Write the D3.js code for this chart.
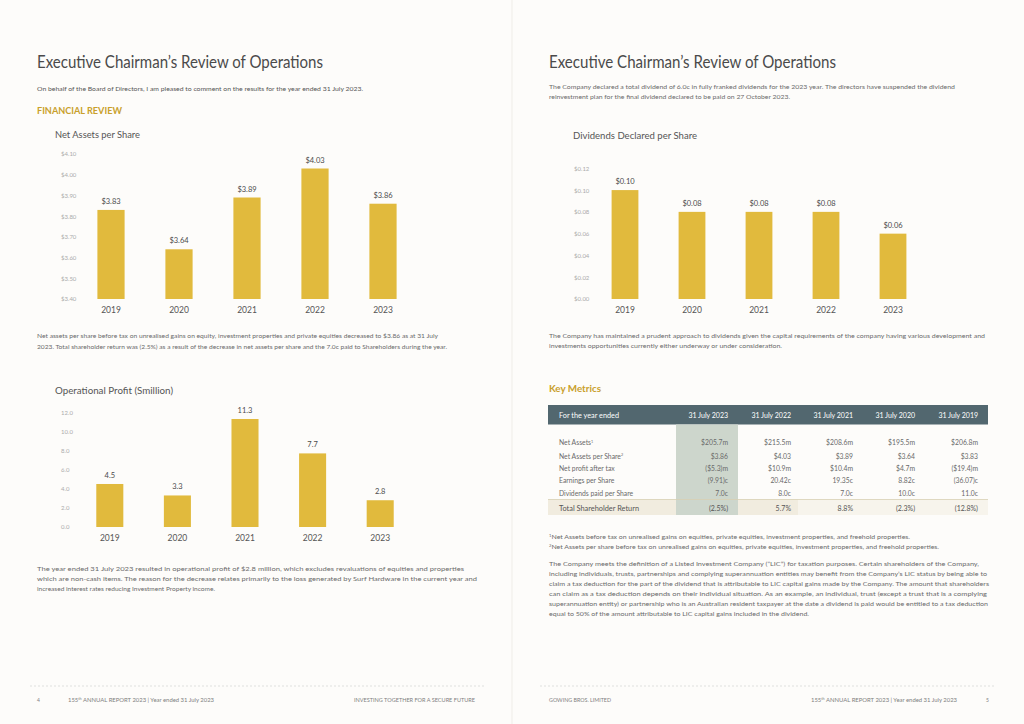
<!DOCTYPE html>
<html>
<head>
<meta charset="utf-8">
<script src="https://cdn.jsdelivr.net/npm/d3@7"></script>
<style>
  html, body { margin: 0; padding: 0; background: #fdfcfa; }
  svg { display: block; font-family: Lato, "Open Sans", sans-serif; }
</style>
</head>
<body>
<svg id="page" width="1024" height="724"></svg>
<script>
// --- data ---
const years = ["2019", "2020", "2021", "2022", "2023"];

const netAssetsPerShare = [3.83, 3.64, 3.89, 4.03, 3.86];
const netAssetsTicks = [3.4, 3.5, 3.6, 3.7, 3.8, 3.9, 4.0, 4.1];

const operationalProfit = [4.5, 3.3, 11.3, 7.7, 2.8];
const profitTicks = [0, 2, 4, 6, 8, 10, 12];

const dividendsPerShare = [0.10, 0.08, 0.08, 0.08, 0.06];
const dividendTicks = [0, 0.02, 0.04, 0.06, 0.08, 0.10, 0.12];

const tableColumns = ["31 July 2023", "31 July 2022", "31 July 2021", "31 July 2020", "31 July 2019"];
const tableRows = ["Net Assets", "Net Assets per Share", "Net profit after tax", "Earnings per Share", "Dividends paid per Share"];
const tableRowNotes = ["1", "2", "", "", ""];
const netAssetsRow = ["$205.7m", "$215.5m", "$208.6m", "$195.5m", "$206.8m"];
const navPerShareRow = ["$3.86", "$4.03", "$3.89", "$3.64", "$3.83"];
const netProfitRow = ["($5.3)m", "$10.9m", "$10.4m", "$4.7m", "($19.4)m"];
const epsRow = ["(9.91)c", "20.42c", "19.35c", "8.82c", "(36.07)c"];
const dividendsPaidRow = ["7.0c", "8.0c", "7.0c", "10.0c", "11.0c"];
const tsrRow = ["(2.5%)", "5.7%", "8.8%", "(2.3%)", "(12.8%)"];

// --- setup ---
const svg = d3.select("#page");
const barColor = "#e1ba3d";
const gold = "#c9a02c";

svg.append("rect").attr("width", 1024).attr("height", 724).attr("fill", "#fdfcfa");
svg.append("line").attr("x1", 512).attr("x2", 512).attr("y1", 0).attr("y2", 724)
    .attr("stroke", "#efede8").attr("stroke-width", 1);

// text helper
function txt(s, x, y, o = {}) {
    const t = svg.append("text")
        .attr("x", x).attr("y", y)
        .attr("font-size", o.size || 6)
        .attr("fill", o.color || "#6a6a6a")
        .attr("text-anchor", o.anchor || "start")
        .attr("font-weight", o.weight || 400);
    if (o.sup) {
        t.append("tspan").attr("font-size", (o.size || 6) * 0.6).attr("dy", -2).text(o.sup);
        t.append("tspan").attr("dy", 2).text(s);
    } else {
        t.text(s);
    }
    if (o.w) t.attr("textLength", o.w).attr("lengthAdjust", "spacingAndGlyphs");
    return t;
}

// --- bar chart ---
function barChart(cfg) {
    const x = d3.scaleBand().domain(years).range(cfg.xr).paddingInner(0.6).paddingOuter(0.3);
    const y = d3.scaleLinear().domain(cfg.domain).range(cfg.yr);
    const g = svg.append("g");

    const ax = g.append("g")
        .attr("transform", `translate(${cfg.tickX},0)`)
        .call(d3.axisLeft(y).tickValues(cfg.ticks).tickFormat(cfg.tickFmt).tickSize(0).tickPadding(0));
    ax.select(".domain").remove();
    ax.attr("font-family", null).attr("font-size", 6);
    ax.selectAll("text").attr("x", 0).attr("text-anchor", "start").attr("fill", "#ababab");

    g.selectAll("rect.bar")
        .data(cfg.values)
        .join("rect")
        .attr("class", "bar")
        .attr("x", (d, i) => x(years[i]))
        .attr("y", d => y(d))
        .attr("width", x.bandwidth())
        .attr("height", d => y(cfg.domain[0]) - y(d))
        .attr("fill", barColor);

    g.selectAll("text.val")
        .data(cfg.values)
        .join("text")
        .attr("class", "val")
        .attr("x", (d, i) => x(years[i]) + x.bandwidth() / 2)
        .attr("y", d => y(d) - 6)
        .attr("text-anchor", "middle")
        .attr("font-size", 7.5)
        .attr("fill", "#4a4a4a")
        .text(cfg.valFmt);

    const xa = g.append("g")
        .attr("transform", `translate(0,${cfg.yearY})`)
        .call(d3.axisBottom(x).tickSize(0));
    xa.select(".domain").remove();
    xa.attr("font-family", null).attr("font-size", 8.5);
    xa.selectAll("text").attr("y", 0).attr("dy", 0).attr("fill", "#555");
}

// --- left page ---
txt("Executive Chairman\u2019s Review of Operations", 37, 68, { size: 17, color: "#4a4a4a", w: 286 });
txt("On behalf of the Board of Directors, I am pleased to comment on the results for the year ended 31 July 2023.", 37, 91, { size: 5.8, w: 326, color: "#555" });
txt("FINANCIAL REVIEW", 37, 114, { size: 9, color: gold, weight: "bold", w: 85 });
txt("Net Assets per Share", 55, 138, { size: 9, color: "#555", w: 85 });

barChart({
    values: netAssetsPerShare, ticks: netAssetsTicks, domain: [3.4, 4.1],
    xr: [77, 417], yr: [299, 154], tickX: 61, yearY: 313,
    tickFmt: d => "$" + d.toFixed(2), valFmt: d => "$" + d.toFixed(2)
});

txt("Net assets per share before tax on unrealised gains on equity, investment properties and private equities decreased to $3.86 as at 31 July", 37, 338, { size: 5.6, w: 401 });
txt("2023. Total shareholder return was (2.5%) as a result of the decrease in net assets per share and the 7.0c paid to Shareholders during the year.", 37, 349, { size: 5.6, w: 410 });

txt("Operational Profit (Smillion)", 55, 394, { size: 9, color: "#555", w: 118 });

barChart({
    values: operationalProfit, ticks: profitTicks, domain: [0, 12],
    xr: [76, 414], yr: [527, 412.3], tickX: 61, yearY: 541,
    tickFmt: d => d.toFixed(1), valFmt: d => d.toFixed(1)
});

txt("The year ended 31 July 2023 resulted in operational profit of $2.8 million, which excludes revaluations of equities and properties", 37, 571, { size: 5.8, w: 427 });
txt("which are non-cash items. The reason for the decrease relates primarily to the loss generated by Surf Hardware in the current year and", 37, 581, { size: 5.8, w: 440 });
txt("increased interest rates reducing Investment Property income.", 37, 591, { size: 5.8, w: 178 });

// --- right page ---
txt("Executive Chairman\u2019s Review of Operations", 549, 68, { size: 17, color: "#4a4a4a", w: 287 });
txt("The Company declared a total dividend of 6.0c in fully franked dividends for the 2023 year.  The directors have suspended the dividend", 549, 89, { size: 5.8, w: 406 });
txt("reinvestment plan for the final dividend declared to be paid on 27 October 2023.", 549, 99, { size: 5.8, w: 241 });
txt("Dividends Declared per Share", 573, 139, { size: 9, color: "#555", w: 124 });

barChart({
    values: dividendsPerShare, ticks: dividendTicks, domain: [0, 0.12],
    xr: [591.5, 926.5], yr: [299, 168.3], tickX: 574, yearY: 313,
    tickFmt: d => "$" + d.toFixed(2), valFmt: d => "$" + d.toFixed(2)
});

txt("The Company has maintained a prudent approach to dividends given the capital requirements of the company having various development and", 549, 338, { size: 5.8, w: 436 });
txt("investments opportunities currently either underway or under consideration.", 549, 348, { size: 5.8, w: 233 });

txt("Key Metrics", 549, 392, { size: 9, color: gold, weight: "bold", w: 52 });

// table
const colRight = [728, 791, 853, 915, 978];
const rowY = [445, 458.5, 470.5, 483, 495.5];
const tableData = [netAssetsRow, navPerShareRow, netProfitRow, epsRow, dividendsPaidRow];

svg.append("rect").attr("x", 548).attr("y", 405).attr("width", 440).attr("height", 19.5).attr("fill", "#52676f");
svg.append("rect").attr("x", 548).attr("y", 499.5).attr("width", 440).attr("height", 15.5).attr("fill", "#f7f4ec");
svg.append("rect").attr("x", 548).attr("y", 499.5).attr("width", 250).attr("height", 15.5).attr("fill", "#f1ecdf");
svg.append("rect").attr("x", 676).attr("y", 424.5).attr("width", 62).attr("height", 90.5).attr("fill", "#cdd6cc");
svg.append("line").attr("x1", 548).attr("x2", 988).attr("y1", 499.5).attr("y2", 499.5)
    .attr("stroke", "#d8cfb2").attr("stroke-width", 0.8);

txt("For the year ended", 559, 417.5, { size: 7, color: "#fff", w: 60 });
tableColumns.forEach((c, i) => txt(c, colRight[i], 417.5, { size: 7, color: "#fff", anchor: "end" }));

tableRows.forEach((r, ri) => {
    const t = txt(r, 559, rowY[ri], { size: 6.8 });
    if (tableRowNotes[ri]) {
        t.append("tspan").attr("font-size", 3.8).attr("dy", -2.5).text(tableRowNotes[ri]);
    }
    tableData[ri].forEach((v, ci) => txt(v, colRight[ci], rowY[ri], { size: 6.8, anchor: "end" }));
});
txt("Total Shareholder Return", 559, 510.5, { size: 7, color: "#555", w: 80 });
tsrRow.forEach((v, ci) => txt(v, colRight[ci], 510.5, { size: 7, color: "#555", anchor: "end" }));

// footnotes and LIC paragraph
txt("Net Assets before tax on unrealised gains on equities, private equities, investment properties, and freehold properties.", 549, 539, { size: 5.6, sup: "1", w: 361 });
txt("Net Assets per share before tax on unrealised gains on equities, private equities, investment properties, and freehold properties.", 549, 549, { size: 5.6, sup: "2", w: 390 });

const licLines = [
    ["The Company meets the definition of a Listed Investment Company (\u201cLIC\u201d) for taxation purposes. Certain shareholders of the Company,", 430],
    ["including individuals, trusts, partnerships and complying superannuation entities may benefit from the Company\u2019s LIC status by being able to", 438],
    ["claim a tax deduction for the part of the dividend that is attributable to LIC capital gains made by the Company. The amount that shareholders", 440],
    ["can claim as a tax deduction depends on their individual situation. As an example, an individual, trust (except a trust that is a complying", 438],
    ["superannuation entity) or partnership who is an Australian resident taxpayer at the date a dividend is paid would be entitled to a tax deduction", 439],
    ["equal to 50% of the amount attributable to LIC capital gains included in the dividend.", 260]
];
licLines.forEach((l, i) => txt(l[0], 549, 565.5 + i * 10, { size: 5.8, w: l[1] }));

// --- footers ---
[[30, 484], [540, 996]].forEach(([a, b]) => {
    svg.append("line").attr("x1", a).attr("x2", b).attr("y1", 686).attr("y2", 686)
        .attr("stroke", "#cfcfcf").attr("stroke-width", 0.6).attr("stroke-dasharray", "2,2");
});

function reportFooter(x) {
    const t = svg.append("text").attr("x", x).attr("y", 702).attr("font-size", 5).attr("fill", "#808080")
        .attr("textLength", 146).attr("lengthAdjust", "spacingAndGlyphs");
    t.append("tspan").text("155");
    t.append("tspan").attr("font-size", 3.2).attr("dy", -2).text("th");
    t.append("tspan").attr("dy", 2).text(" ANNUAL REPORT 2023  |  Year ended 31 July 2023");
}
txt("4", 37, 702, { size: 5, color: "#808080" });
reportFooter(68);
txt("INVESTING TOGETHER FOR A SECURE FUTURE", 354, 702, { size: 5, color: "#808080", w: 121 });
txt("GOWING BROS. LIMITED", 549, 702, { size: 5, color: "#808080", w: 62 });
reportFooter(811);
txt("5", 986, 702, { size: 5, color: "#808080" });
</script>
</body>
</html>
